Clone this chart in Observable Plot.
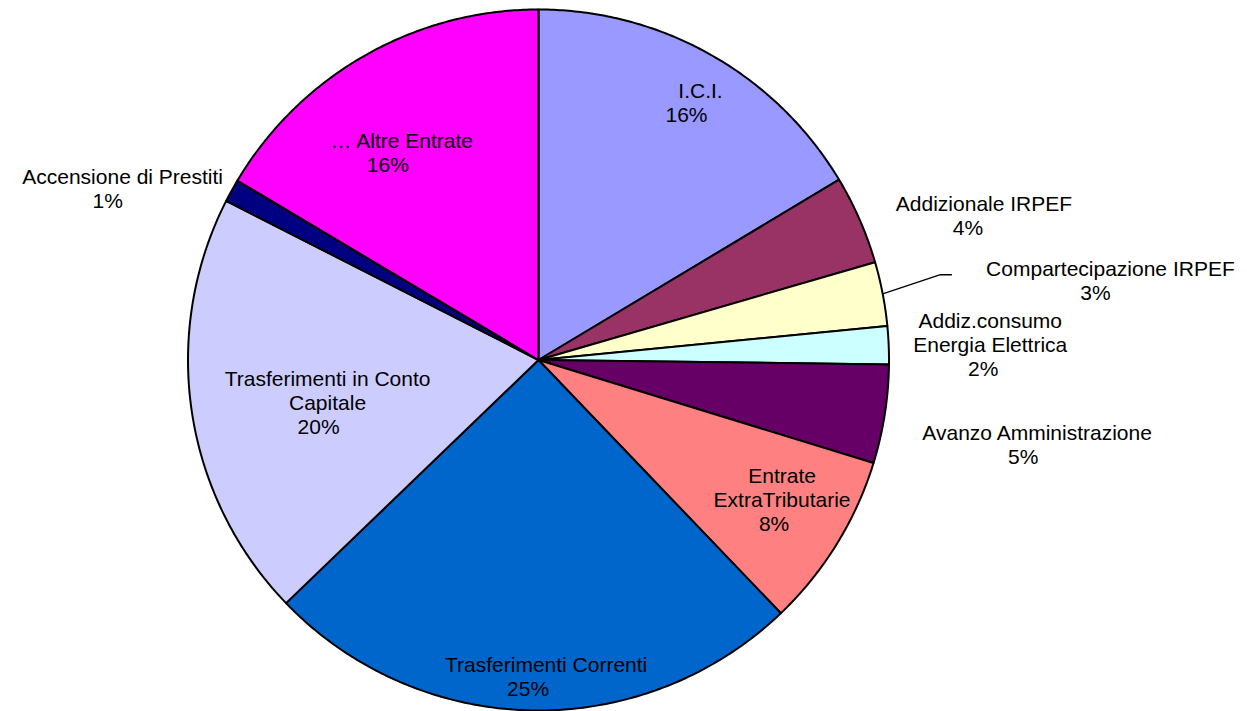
<!DOCTYPE html>
<html><head><meta charset="utf-8">
<script src="https://cdn.jsdelivr.net/npm/d3@7"></script>
<script src="https://cdn.jsdelivr.net/npm/@observablehq/plot@0.6"></script>
<style>html,body{margin:0;padding:0;background:#fff;} svg{display:block}</style>
</head><body><div id="chart"></div>
<script>
// ---- data ----
const categories = ["I.C.I.", "Addizionale IRPEF", "Compartecipazione IRPEF", "Addiz.consumo\nEnergia Elettrica", "Avanzo Amministrazione", "Entrate\nExtraTributarie", "Trasferimenti Correnti", "Trasferimenti in Conto\nCapitale", "Accensione di Prestiti", "… Altre Entrate"];
const values = [16.4, 4.1, 2.95, 1.75, 4.55, 8.1, 24.95, 19.7, 1.05, 16.45];
const colors = ["#9999FF", "#993366", "#FFFFCC", "#CCFFFF", "#660066", "#FF8080", "#0066CC", "#CCCCFF", "#000080", "#FF00FF"];

// ---- layout ----
const R = 350.5; // pie radius in px
const labelRadius = [0.88, 1.34, 1.65, 1.29, 1.44, 0.83, 0.89, 0.62, 1.29, 0.72];
const labelNudge = [[10, 6], [15, 39], [4, 25], [0, 11], [0, 2], [-4, -6], [14, 0], [4, 18], [-20, 42], [-12, 7]];
const pctShift = [-14, -16, -15, -7, -14, -8, -18, -9, -15, -14];
const leaderIndex = 2;

const total = d3.sum(values);
const arcs = d3.pie().sort(null).value(d => d)(values);

const slicePts = [];
arcs.forEach((p, i) => {
  const name = categories[i];
  const n = Math.max(2, Math.ceil((p.endAngle - p.startAngle) / (Math.PI / 360)));
  slicePts.push({name, x: 0, y: 0});
  for (let k = 0; k <= n; k++) {
    const a = p.startAngle + (p.endAngle - p.startAngle) * k / n;
    slicePts.push({name, x: Math.sin(a), y: Math.cos(a)});
  }
  slicePts.push({name, x: 0, y: 0});
});

const labels = arcs.map((p, i) => {
  const mid = (p.startAngle + p.endAngle) / 2;
  const r = labelRadius[i];
  const x = r * Math.sin(mid) + labelNudge[i][0] / R;
  const y = r * Math.cos(mid) - labelNudge[i][1] / R;
  return {
    name: categories[i],
    pct: Math.round(values[i] / total * 100) + "%",
    x, y,
    px: x + pctShift[i] / R,
    py: y - 24 / R,
    mid
  };
});

const L = labels[leaderIndex];
const p2 = {x: L.x - 159 / R, y: L.y + 1 / R};
const leader = [
  {x: Math.sin(L.mid), y: Math.cos(L.mid)},
  {x: p2.x - 11 / R, y: p2.y},
  p2
];

const cx = 538, cy = 359.5;
const chart = Plot.plot({
  width: 1247,
  height: 711,
  margin: 0,
  style: {fontFamily: "'Liberation Sans', Arial, sans-serif", background: "white"},
  x: {domain: [-1, 1], range: [cx - R, cx + R], axis: null},
  y: {domain: [-1, 1], range: [cy + R, cy - R], axis: null},
  color: {domain: categories, range: colors},
  marks: [
    Plot.line(slicePts, {x: "x", y: "y", z: "name", fill: "name", stroke: "black", strokeWidth: 2, strokeLinejoin: "round"}),
    Plot.line(leader, {x: "x", y: "y", stroke: "black", strokeWidth: 1.3}),
    Plot.text(labels, {x: "x", y: "y", text: "name", fill: "black", fontSize: 21, lineAnchor: "bottom", lineHeight: 1.14, textAnchor: "middle"}),
    Plot.text(labels, {x: "px", y: "py", text: "pct", fill: "black", fontSize: 21, lineAnchor: "bottom", textAnchor: "middle"})
  ]
});
document.getElementById("chart").appendChild(chart);
</script>
</body></html>
